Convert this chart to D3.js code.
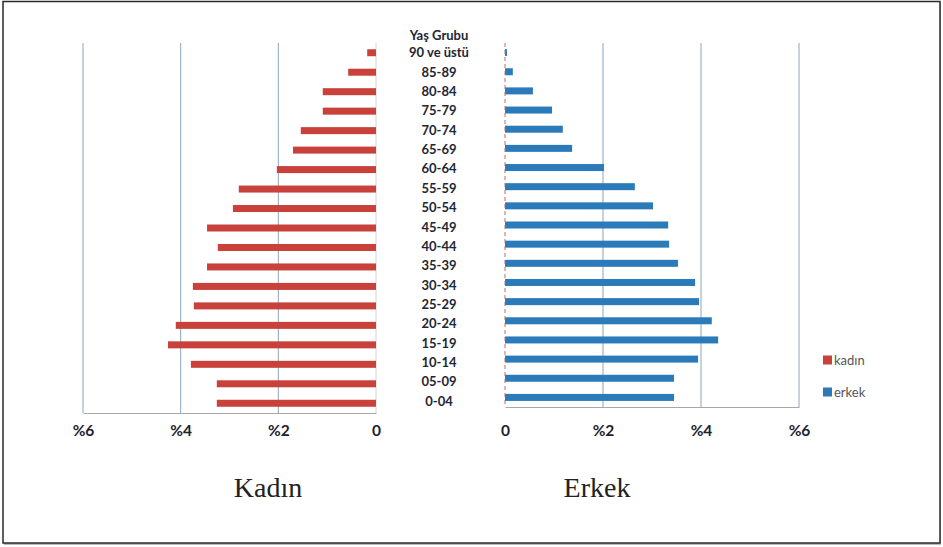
<!DOCTYPE html>
<html>
<head>
<meta charset="utf-8">
<script src="https://cdn.jsdelivr.net/npm/d3@7"></script>
<style>
  html, body { margin: 0; padding: 0; background: #fff; }
  svg { display: block; }
</style>
</head>
<body>
<svg id="chart" width="943" height="547"></svg>
<script>
// Age groups, top to bottom
const ageGroups = ["90 ve üstü", "85-89", "80-84", "75-79", "70-74", "65-69", "60-64",
  "55-59", "50-54", "45-49", "40-44", "35-39", "30-34", "25-29", "20-24", "15-19",
  "10-14", "05-09", "0-04"];

// Share of total population (%)
const kadin = [0.18, 0.57, 1.09, 1.09, 1.54, 1.70, 2.03, 2.81, 2.93, 3.46, 3.24, 3.46,
  3.75, 3.73, 4.10, 4.26, 3.79, 3.26, 3.26];
const erkek = [0.04, 0.16, 0.57, 0.96, 1.18, 1.37, 2.02, 2.65, 3.02, 3.33, 3.35, 3.53,
  3.88, 3.96, 4.22, 4.35, 3.94, 3.45, 3.45];

const tickValues = [0, 2, 4, 6];
const tickLabel = v => v === 0 ? "0" : "%" + v;

const svg = d3.select("#chart");
const red = "#c8413b", blue = "#2b7bba", grid = "#8aa6bd";

// outer frame with soft shadow
svg.append("rect").attr("x", 4).attr("y", 3).attr("width", 937).attr("height", 542)
  .attr("fill", "#bbb");
svg.append("rect").attr("x", 3).attr("y", 1.5).attr("width", 937).attr("height", 541.5)
  .attr("fill", "#fff").attr("stroke", "#2a2a2a").attr("stroke-width", 1.5);

// ---- Left panel (kadın) ----
const xL = d3.scaleLinear().domain([0, 6]).range([376, 83]);
const yL = d3.scaleBand().domain(ageGroups).range([43, 413]).paddingInner(0.6).paddingOuter(0.3);

const gL = svg.append("g");
gL.selectAll("line.grid").data(tickValues.filter(v => v > 0)).join("line")
  .attr("x1", d => xL(d)).attr("x2", d => xL(d))
  .attr("y1", 43).attr("y2", 413)
  .attr("stroke", grid).attr("stroke-width", 1);
gL.append("line").attr("x1", xL(0)).attr("x2", xL(0)).attr("y1", 43).attr("y2", 413)
  .attr("stroke", "#d4d4d4").attr("stroke-width", 1);
gL.selectAll("rect.bar").data(kadin).join("rect")
  .attr("x", d => xL(d)).attr("width", d => xL(0) - xL(d))
  .attr("y", (d, i) => yL(ageGroups[i]) + yL.bandwidth() / 2 - 3.5)
  .attr("height", 7).attr("fill", red);

const axL = d3.axisBottom(xL).tickValues(tickValues).tickFormat(tickLabel).tickSize(0).tickPadding(12);
gL.append("g").attr("transform", "translate(0,413)").call(axL)
  .call(g => g.select(".domain").attr("stroke", "#a8a8a8"))
  .call(g => g.selectAll("text").attr("font-family", "Lato, 'Open Sans', sans-serif")
    .attr("font-size", 15.5).attr("font-weight", "bold").attr("fill", "#1e2230"));

// ---- Right panel (erkek) ----
const xR = d3.scaleLinear().domain([0, 6]).range([505, 799]);
const yR = d3.scaleBand().domain(ageGroups).range([43, 407]).paddingInner(0.6).paddingOuter(0.3);

const gR = svg.append("g");
gR.selectAll("line.grid").data(tickValues.filter(v => v > 0)).join("line")
  .attr("x1", d => xR(d)).attr("x2", d => xR(d))
  .attr("y1", 43).attr("y2", 407)
  .attr("stroke", grid).attr("stroke-width", 1);
gR.selectAll("rect.bar").data(erkek).join("rect")
  .attr("x", xR(0)).attr("width", d => xR(d) - xR(0))
  .attr("y", (d, i) => yR(ageGroups[i]) + yR.bandwidth() / 2 - 3.5)
  .attr("height", 7).attr("fill", blue);
gR.append("line").attr("x1", xR(0)).attr("x2", xR(0)).attr("y1", 43).attr("y2", 407)
  .attr("stroke", "#c96a5e").attr("stroke-width", 1).attr("stroke-dasharray", "4,3");

const axR = d3.axisBottom(xR).tickValues(tickValues).tickFormat(tickLabel).tickSize(0).tickPadding(18);
gR.append("g").attr("transform", "translate(0,407)").call(axR)
  .call(g => g.select(".domain").attr("stroke", "#a8a8a8"))
  .call(g => g.selectAll("text").attr("font-family", "Lato, 'Open Sans', sans-serif")
    .attr("font-size", 15.5).attr("font-weight", "bold").attr("fill", "#1e2230"));

// ---- Age group labels ----
const yLab = d3.scaleBand().domain(ageGroups).range([43, 411]).paddingInner(0.6).paddingOuter(0.3);
const labels = svg.append("g").attr("font-family", "Lato, 'Open Sans', sans-serif")
  .attr("font-size", 13).attr("font-weight", "bold").attr("fill", "#222633")
  .attr("text-anchor", "middle");
labels.append("text").attr("x", 439).attr("y", 35).attr("dy", "0.35em").text("Yaş Grubu");
labels.selectAll("text.age").data(ageGroups).join("text")
  .attr("x", 439).attr("y", d => yLab(d) + yLab.bandwidth() / 2).attr("dy", "0.35em").text(d => d);

// ---- Legend ----
const legend = svg.append("g").attr("font-family", "Lato, 'Open Sans', sans-serif")
  .attr("font-size", 13).attr("fill", "#555");
[["kadın", red, 360], ["erkek", blue, 392]].forEach(([name, col, y]) => {
  legend.append("rect").attr("x", 823).attr("y", y - 4.5).attr("width", 9).attr("height", 9).attr("fill", col);
  legend.append("text").attr("x", 834).attr("y", y).attr("dy", "0.35em").text(name);
});

// ---- Panel titles ----
const titles = svg.append("g").attr("font-family", "'Liberation Serif', 'DejaVu Serif', serif")
  .attr("font-size", 28).attr("fill", "#222").attr("text-anchor", "middle");
titles.append("text").attr("x", 268).attr("y", 497).text("Kadın");
titles.append("text").attr("x", 597).attr("y", 497).text("Erkek");
</script>
</body>
</html>
